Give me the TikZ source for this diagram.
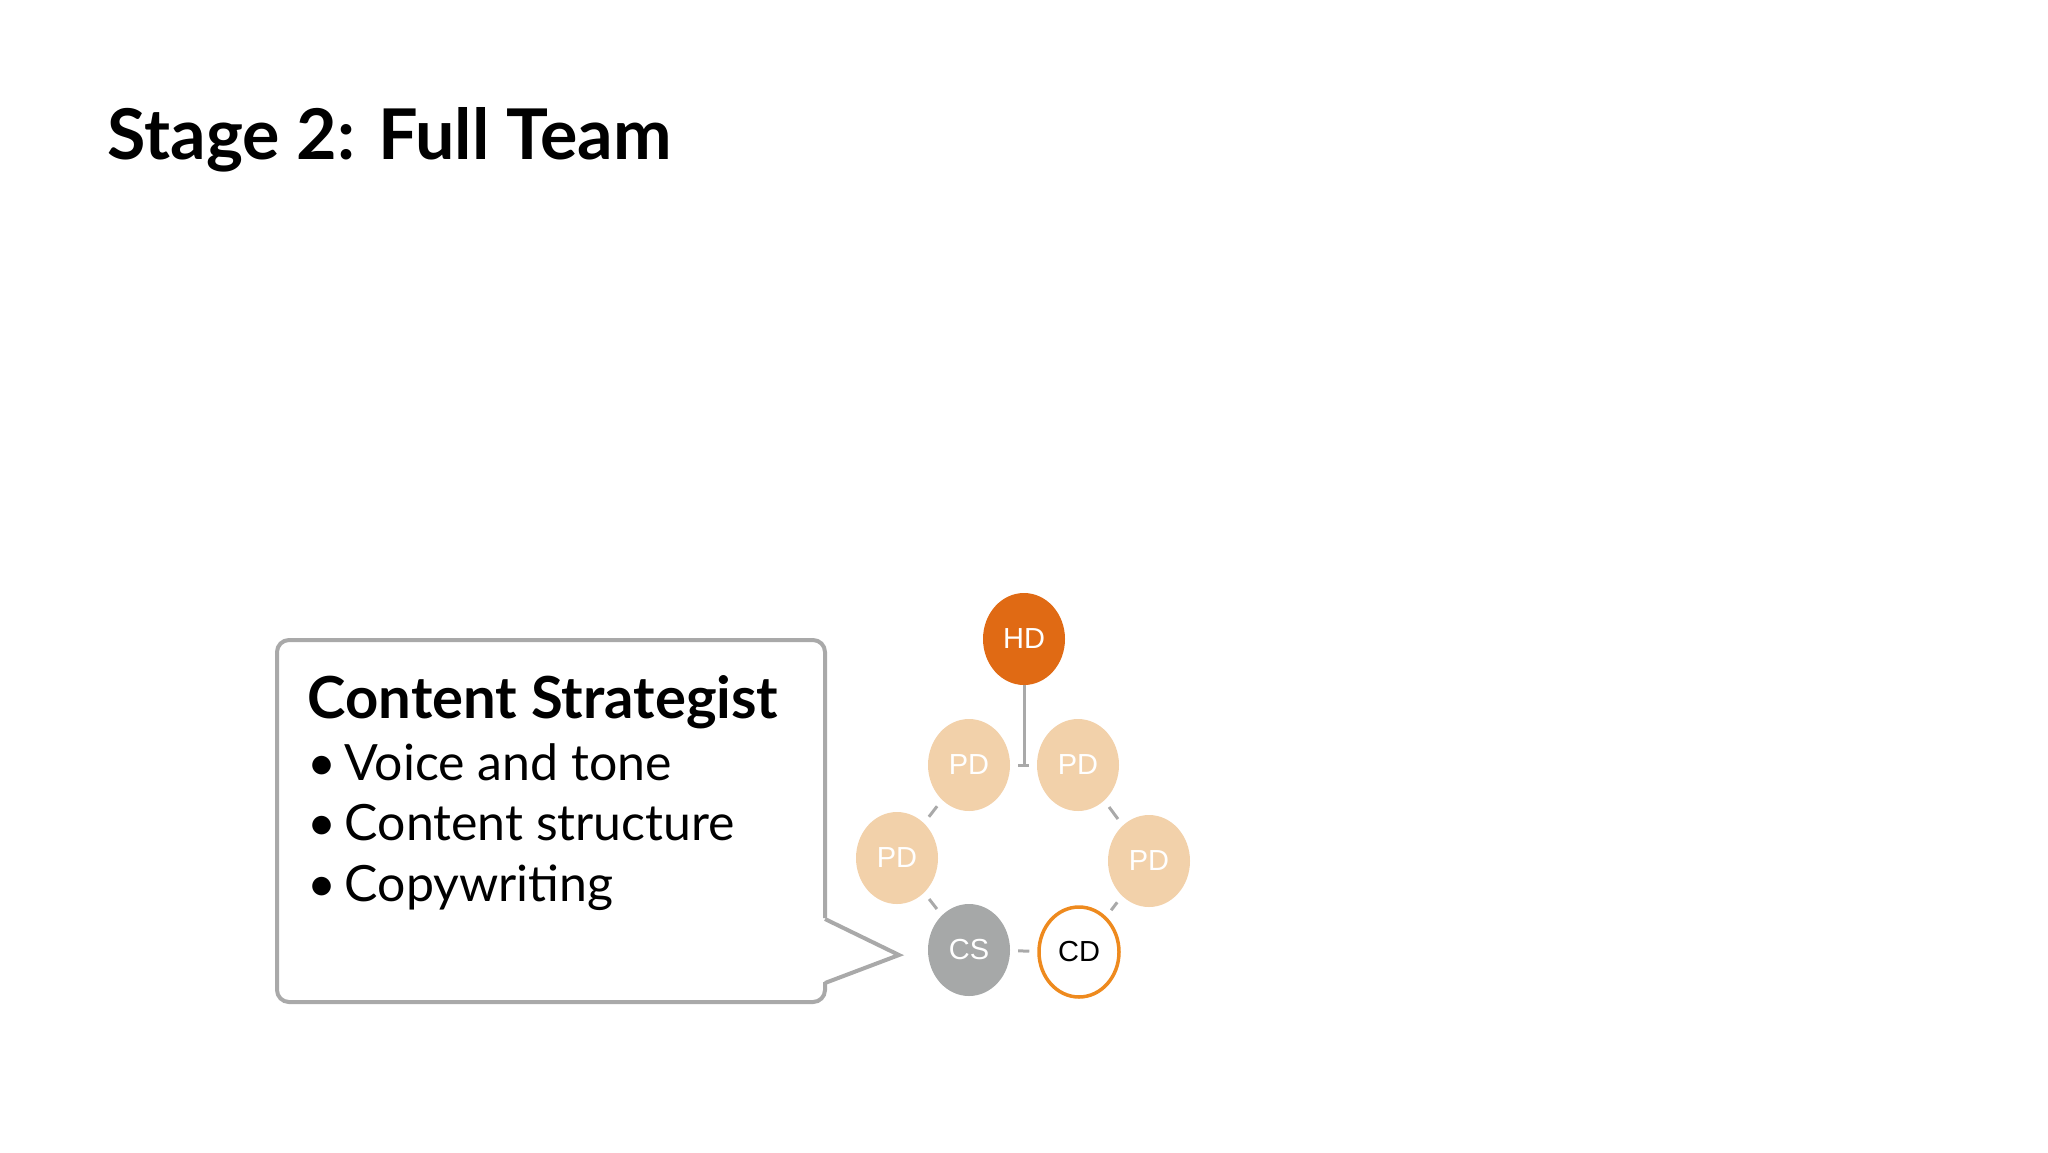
\documentclass[tikz,border=0pt]{standalone}
\usepackage{fontspec}
\usetikzlibrary{shapes.geometric}
\setmainfont{Lato}
\newfontfamily\helv{Liberation Sans}
\definecolor{hdc}{HTML}{E06A14}
\definecolor{pdc}{HTML}{F2D1AA}
\definecolor{csc}{HTML}{A6A8A8}
\definecolor{cdc}{HTML}{EE8A1E}
\definecolor{linec}{HTML}{A9A9A9}
\begin{document}
\begin{tikzpicture}[x=1pt,y=-1pt,
  role/.style={ellipse,minimum width=82pt,minimum height=92pt,inner sep=0pt,font=\helv\fontsize{29}{29}\selectfont},
  link/.style={draw=linec,line width=3pt,shorten >=8pt,shorten <=8pt}]
\useasboundingbox (0,0) rectangle (2048,1152);
\node[anchor=base west,font=\bfseries\fontsize{70}{70}\selectfont] (title) at (104,159) {Stage 2: Full Team};
\node[role,fill=hdc,text=white] (hd) at (1024,639) {HD};
\node[role,fill=pdc,text=white] (pd1) at (969,765) {PD};
\node[role,fill=pdc,text=white] (pd2) at (1078,765) {PD};
\node[role,fill=pdc,text=white] (pd3) at (897,858) {PD};
\node[role,fill=pdc,text=white] (pd4) at (1149,861) {PD};
\node[role,fill=csc,text=white] (cs) at (969,950) {CS};
\node[role,draw=cdc,line width=3.5pt,fill=white,text=black,minimum width=80pt,minimum height=90pt] (cd) at (1079,952) {CD};
\draw[link] (pd1) -- (pd2);
\coordinate (tj) at (1024,765);
\draw[draw=linec,line width=3pt] (hd.south) -- (tj);
\draw[link] (pd1) -- (pd3);
\draw[link] (pd2) -- (pd4);
\draw[link] (pd3) -- (cs);
\draw[link] (cs) -- (cd);
\draw[link] (pd4) -- (cd);
\draw[draw=linec,line width=4pt,rounded corners=12pt]
  (825,918) -- (825,640) -- (277,640) -- (277,1002) -- (825,1002) -- (825,982);
\draw[draw=linec,line width=4pt,line join=miter] (825,919) -- (899,955) -- (825,983);
\node[anchor=base west,font=\bfseries\fontsize{58}{58}\selectfont] (h) at (304,718) {Content Strategist};
\node[anchor=base west,font=\fontsize{50}{50}\selectfont] (b1) at (304,780) {\textbullet\,Voice and tone};
\node[anchor=base west,font=\fontsize{50}{50}\selectfont] (b2) at (304,840) {\textbullet\,Content structure};
\node[anchor=base west,font=\fontsize{50}{50}\selectfont] (b3) at (304,901) {\textbullet\,Copywriting};
\end{tikzpicture}
\end{document}
